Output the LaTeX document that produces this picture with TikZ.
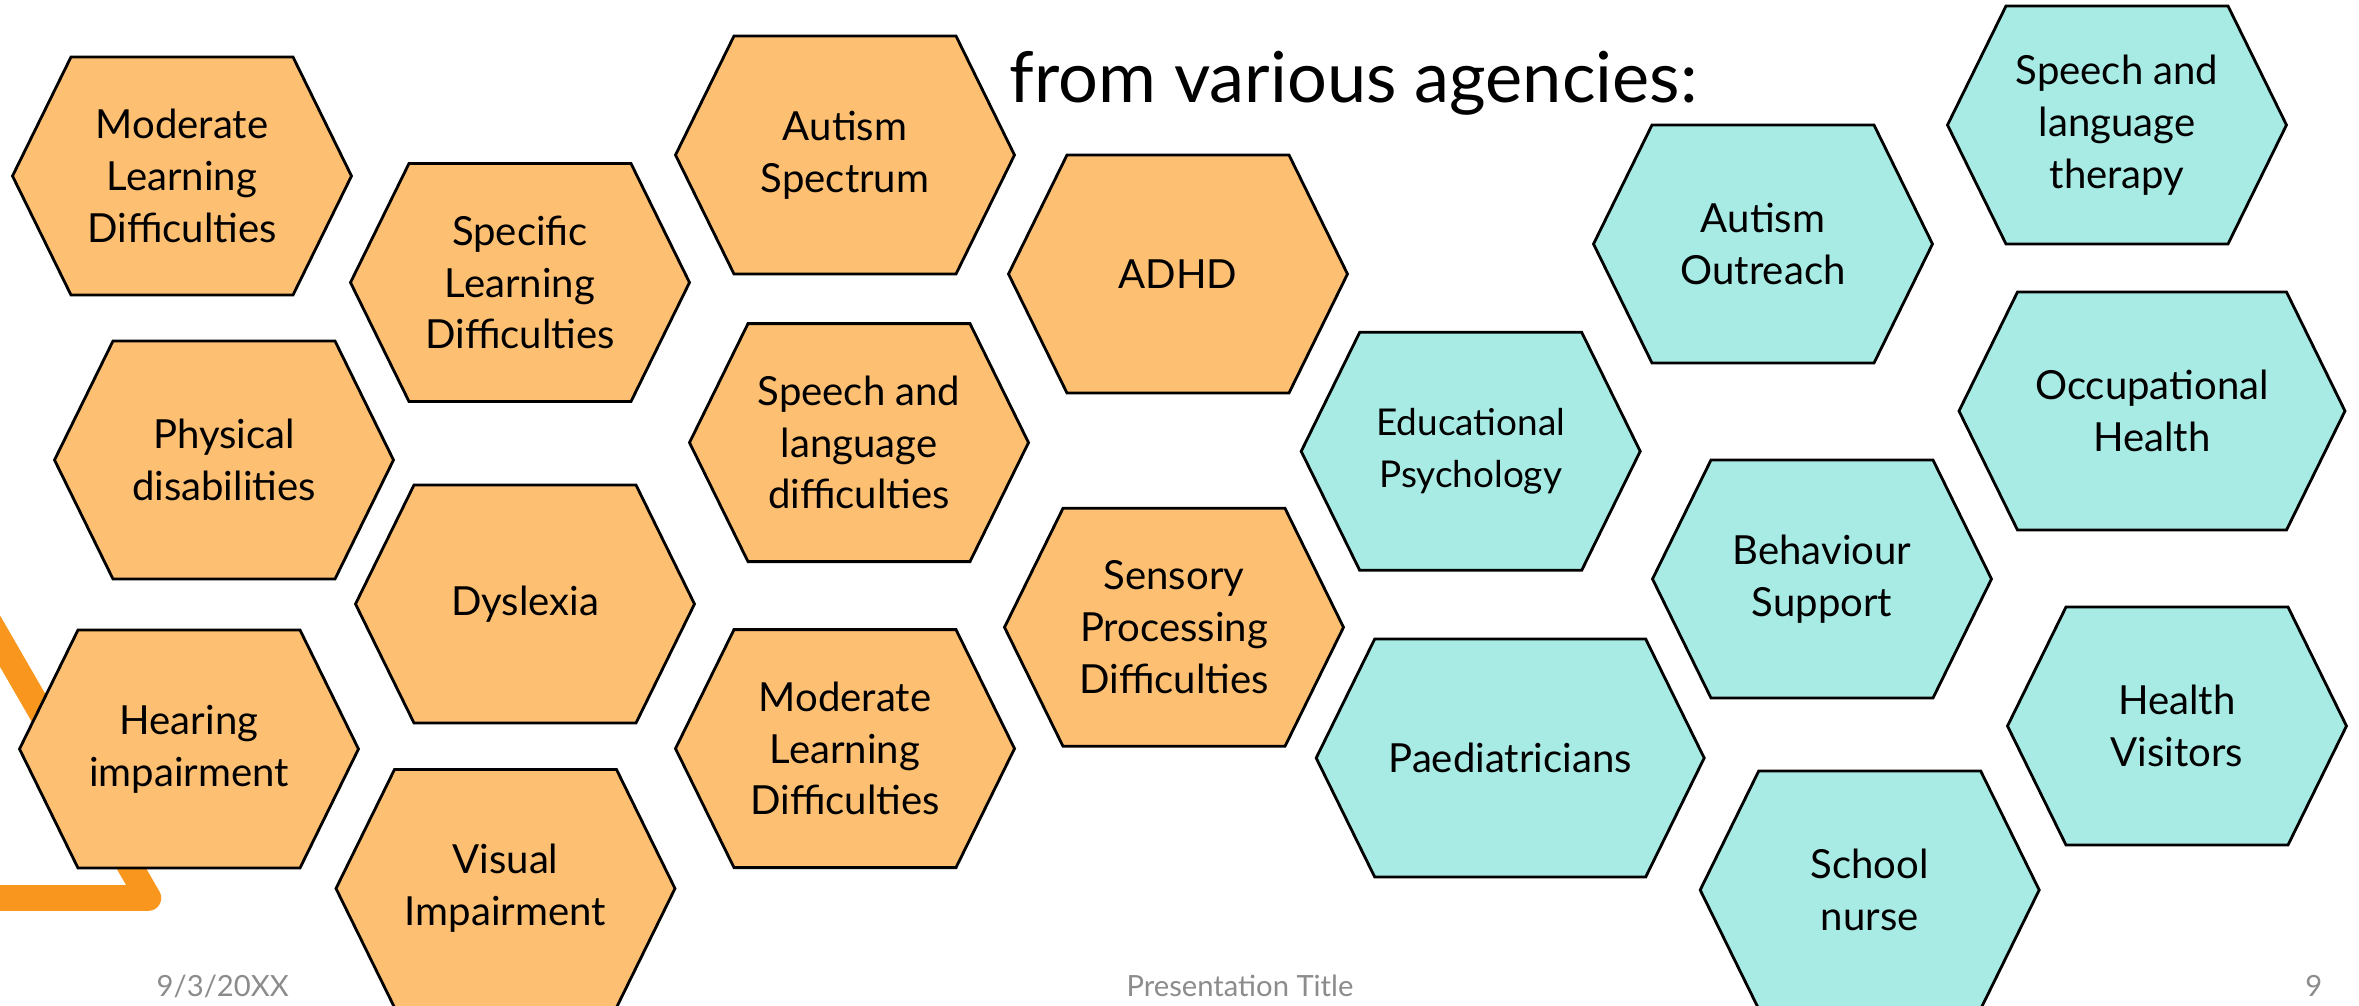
\documentclass[tikz,border=0pt]{standalone}
\usepackage{fontspec}
\setmainfont{Lato}
\definecolor{hexorange}{RGB}{253,191,114}
\definecolor{hexteal}{RGB}{168,234,228}
\definecolor{accentorange}{RGB}{248,150,29}
\definecolor{footgray}{RGB}{140,140,140}
\tikzset{
  orangecell/.style={fill=hexorange, draw=black, line width=0.8pt},
  tealcell/.style={fill=hexteal, draw=black, line width=0.8pt},
  hexlabel/.style={align=center, font=\fontsize{11.4}{14.7}\selectfont, inner sep=0pt},
  footer/.style={font=\fontsize{8.3}{10}\selectfont, text=footgray, inner sep=0pt},
  titletext/.style={font=\fontsize{20}{24}\selectfont, inner sep=0pt},
  accentline/.style={draw=accentorange, line width=7.3pt, line join=round, line cap=round},
}
% #1 name, #2 cx, #3 cy, #4 half width, #5 style, #6 text
\newcommand{\hexcell}[6]{%
  \draw[#5] ({#2-#4},{#3}) -- ({#2-#4+58.5},{#3-119}) -- ({#2+#4-58.5},{#3-119})
    -- ({#2+#4},{#3}) -- ({#2+#4-58.5},{#3+119}) -- ({#2-#4+58.5},{#3+119}) -- cycle;
  \node[hexlabel] (#1) at (#2,#3) {#6};}
\begin{document}
\begin{tikzpicture}[x=0.01cm, y=-0.01cm]
\useasboundingbox (0,0) rectangle (2359,1006);
\fill[white] (0,0) rectangle (2359,1006);
% decorative accent line
\coordinate (acc1) at (-100,468);
\coordinate (acc2) at (148.4,898);
\coordinate (acc3) at (-100,898);
\draw[accentline] (acc1) -- (acc2) -- (acc3);
% heading
\node[titletext, anchor=base west] (heading) at (1009,103) {from various agencies:};
% orange cells
\hexcell{mld1}{182}{176}{169.5}{orangecell}{Moderate\\Learning\\Difficulties}
\hexcell{sld}{520}{282.5}{169.5}{orangecell}{Specific\\Learning\\Difficulties}
\hexcell{phys}{224}{460}{169.5}{orangecell}{Physical\\disabilities}
\hexcell{dys}{525}{604}{169.5}{orangecell}{Dyslexia}
\hexcell{hear}{189}{749}{169.5}{orangecell}{Hearing\\impairment}
\hexcell{vis}{505.5}{888.5}{169.5}{orangecell}{Visual\\Impairment}
\hexcell{asd}{845}{155}{169.5}{orangecell}{Autism\\Spectrum}
\hexcell{sldiff}{859}{442.6}{169.5}{orangecell}{Speech and\\language\\difficulties}
\hexcell{mld2}{845}{748.6}{169.5}{orangecell}{Moderate\\Learning\\Difficulties}
\hexcell{adhd}{1178}{274}{169.5}{orangecell}{ADHD}
\hexcell{spd}{1174}{627.3}{169.5}{orangecell}{Sensory\\Processing\\Difficulties}
% teal cells
\hexcell{edpsy}{1470.7}{451.3}{169.5}{tealcell}{\fontsize{10.5}{14.7}\selectfont Educational\\\fontsize{10.5}{14.7}\selectfont Psychology}
\hexcell{paed}{1510.2}{758}{194}{tealcell}{Paediatricians}
\hexcell{ao}{1763}{244}{169.5}{tealcell}{Autism\\Outreach}
\hexcell{beh}{1822}{579}{169.5}{tealcell}{Behaviour\\Support}
\hexcell{nurse}{1869.7}{890}{169.5}{tealcell}{School\\nurse}
\hexcell{salt}{2117}{125}{169.5}{tealcell}{Speech and\\language\\therapy}
\hexcell{occ}{2152}{411}{193}{tealcell}{Occupational\\Health}
\hexcell{hv}{2177}{726}{169.5}{tealcell}{Health\\Visitors}
% footer
\node[footer, anchor=base west] (date) at (156,996) {9/3/20XX};
\node[footer, anchor=base] (ptitle) at (1240,996) {Presentation Title};
\node[footer, anchor=base east] (pnum) at (2323,996) {9};
\end{tikzpicture}
\end{document}
